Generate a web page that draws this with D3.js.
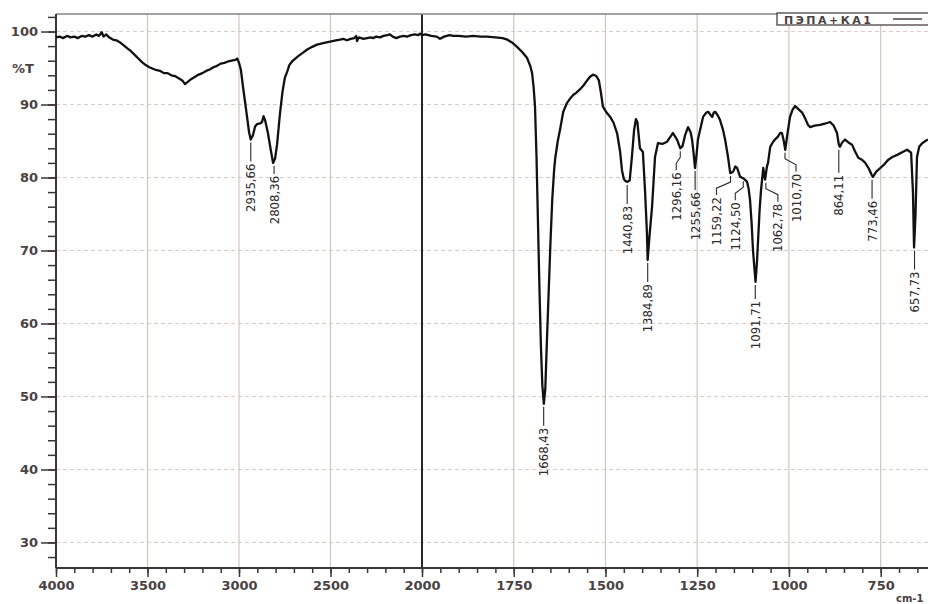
<!DOCTYPE html>
<html>
<head>
<meta charset="utf-8">
<script src="https://cdn.jsdelivr.net/npm/d3@7"></script>
<style>
  html, body { margin: 0; padding: 0; background: #fff; }
  svg { display: block; }
</style>
</head>
<body>
<svg id="chart"></svg>
<script>
// IR spectrum, wavenumber (cm-1) vs %T
const spectrum = [
  [4000,99.2],[3980,99.3],[3960,99.1],[3940,99.4],[3920,99.2],[3900,99.3],[3880,99.1],[3860,99.4],
  [3840,99.3],[3820,99.5],[3800,99.3],[3780,99.6],[3765,99.4],[3750,99.9],[3740,99.3],[3725,99.6],
  [3710,99.2],[3690,98.9],[3670,98.8],[3650,98.5],[3630,98.1],[3610,97.7],[3590,97.3],[3570,96.8],
  [3550,96.3],[3530,95.8],[3510,95.4],[3490,95.1],[3470,94.9],[3450,94.7],[3430,94.6],[3410,94.3],
  [3390,94.3],[3370,94.0],[3350,93.9],[3330,93.6],[3310,93.3],[3295,92.8],[3280,93.1],[3260,93.5],
  [3240,93.8],[3220,94.1],[3200,94.3],[3180,94.6],[3160,94.8],[3140,95.1],[3120,95.3],[3100,95.6],
  [3080,95.7],[3060,95.9],[3040,96.0],[3020,96.1],[3010,96.3],[3000,95.7],[2990,94.8],[2978,92.4],
  [2965,90.0],[2956,88.3],[2945,86.2],[2936,85.2],[2924,85.8],[2912,87.0],[2902,87.3],[2885,87.4],
  [2874,87.6],[2866,88.4],[2858,87.9],[2842,86.1],[2828,84.0],[2814,82.0],[2803,82.6],[2792,84.5],
  [2776,88.8],[2762,91.8],[2749,93.7],[2735,94.6],[2725,95.4],[2710,95.9],[2678,96.6],[2650,97.1],
  [2629,97.5],[2600,97.9],[2574,98.2],[2540,98.4],[2503,98.6],[2470,98.8],[2448,98.9],[2430,99.0],
  [2410,98.8],[2390,99.0],[2370,99.1],[2360,99.4],[2355,98.7],[2345,99.2],[2320,99.0],[2300,99.1],
  [2280,99.2],[2268,99.1],[2250,99.3],[2230,99.2],[2210,99.4],[2190,99.5],[2175,99.6],[2160,99.3],
  [2140,99.1],[2120,99.3],[2100,99.4],[2082,99.3],[2060,99.5],[2040,99.6],[2020,99.5],[2011,99.7],
  [2000,99.5],[1990,99.6],[1975,99.4],[1960,99.3],[1951,99.0],[1940,99.3],[1925,99.5],[1915,99.4],
  [1900,99.4],[1880,99.3],[1860,99.4],[1840,99.3],[1823,99.3],[1800,99.2],[1780,99.1],[1768,98.9],
  [1755,98.5],[1741,97.9],[1727,97.2],[1714,96.4],[1705,95.3],[1700,94.3],[1696,92.5],[1692,89.7],
  [1688,83.0],[1684,74.0],[1680,65.0],[1676,57.0],[1672,51.5],[1668,49.0],[1664,51.0],[1660,57.0],
  [1655,64.0],[1650,71.0],[1645,77.0],[1640,81.0],[1637,82.6],[1630,85.0],[1624,86.5],[1615,89.0],
  [1605,90.2],[1595,90.9],[1588,91.3],[1580,91.6],[1569,92.1],[1560,92.6],[1550,93.3],[1542,93.8],
  [1534,94.1],[1525,93.9],[1518,93.3],[1512,91.5],[1507,89.7],[1497,88.9],[1487,88.3],[1478,87.5],
  [1468,86.0],[1460,83.5],[1455,81.0],[1450,79.8],[1445,79.5],[1440,79.4],[1434,79.6],[1428,82.8],
  [1422,86.5],[1417,88.0],[1413,87.6],[1406,84.0],[1398,83.5],[1392,78.0],[1387,72.4],[1385,68.7],
  [1380,72.0],[1373,76.0],[1365,82.8],[1357,84.7],[1345,84.6],[1332,84.9],[1320,85.8],[1316,86.1],
  [1310,85.6],[1305,85.2],[1296,84.0],[1290,84.3],[1283,85.8],[1275,86.9],[1268,86.2],[1264,85.2],
  [1260,83.4],[1256,81.3],[1252,83.0],[1248,85.2],[1240,87.0],[1234,88.3],[1225,88.9],[1220,89.0],
  [1214,88.6],[1209,88.3],[1205,88.9],[1201,89.0],[1195,88.6],[1188,87.9],[1180,86.6],[1174,85.2],
  [1166,82.8],[1160,80.6],[1152,80.8],[1146,81.5],[1141,81.3],[1133,80.1],[1125,79.9],[1118,79.6],
  [1114,79.4],[1110,78.5],[1106,76.9],[1102,74.0],[1098,70.1],[1094,67.5],[1091,65.7],[1087,68.5],
  [1084,71.5],[1080,75.5],[1076,78.3],[1070,81.3],[1065,79.7],[1060,81.5],[1057,82.0],[1051,84.2],
  [1043,84.9],[1038,85.2],[1030,85.6],[1024,86.1],[1019,86.1],[1014,85.0],[1010,83.8],[1004,86.0],
  [997,88.3],[990,89.3],[983,89.8],[975,89.4],[964,88.9],[955,88.0],[948,87.2],[942,86.9],
  [930,87.1],[915,87.2],[900,87.4],[888,87.6],[878,87.1],[869,86.1],[864,84.5],[861,84.2],
  [855,84.8],[847,85.2],[838,84.8],[828,84.5],[820,83.6],[811,82.7],[800,82.4],[792,82.0],
  [782,81.2],[775,80.4],[771,80.1],[762,80.8],[751,81.3],[740,81.8],[730,82.4],[718,82.8],
  [705,83.1],[690,83.5],[678,83.8],[667,83.4],[662,78.0],[659,70.4],[655,75.0],[651,82.8],
  [645,84.2],[637,84.7],[628,85.0],[621,85.2]
];

// picked peaks: wavenumber, %T at the minimum
const peakWn = [2935.66, 2808.36, 1668.43, 1440.83, 1384.89, 1296.16, 1255.66, 1159.22,
                1124.50, 1091.71, 1062.78, 1010.70, 864.11, 773.46, 657.73];
const peakT  = [85.2, 82.0, 49.0, 79.4, 68.7, 84.0, 81.3, 80.6,
                79.9, 65.7, 79.7, 83.8, 84.2, 80.1, 70.4];

const xMajor = [4000, 3500, 3000, 2500, 2000, 1750, 1500, 1250, 1000, 750];
const xMinorLeft = d3.range(4000, 2000, -100);
const xMinorRight = d3.range(2000, 620, -50);
const yMajor = [30, 40, 50, 60, 70, 80, 90, 100];
const yMinor = d3.range(28, 103, 2);
const yLabel = "%T";
const xLabel = "cm-1";
const legendName = "ПЭПА+КА1";

const W = 928, H = 604;
const mLeft = 56, mTop = 14, mBottom = 568;

const svg = d3.select("#chart").attr("width", W).attr("height", H);

// two-speed wavenumber axis, expanded below 2000
const x = d3.scaleLinear().domain([4000, 2000, 621]).range([mLeft, 422, W]);
const y = d3.scaleLinear().domain([26.5, 102.4]).range([mBottom, mTop]);

const tickFont = "'DejaVu Sans', sans-serif";
const ink = "#4a4242";

// horizontal dashed grid
svg.append("g")
  .selectAll("line")
  .data(yMajor)
  .join("line")
  .attr("x1", mLeft).attr("x2", W)
  .attr("y1", d => y(d)).attr("y2", d => y(d))
  .attr("stroke", "#dcc9c9")
  .attr("stroke-dasharray", "4,3");

// vertical grid
svg.append("g")
  .selectAll("line")
  .data(xMajor.filter(d => d !== 4000))
  .join("line")
  .attr("x1", d => x(d)).attr("x2", d => x(d))
  .attr("y1", mTop).attr("y2", mBottom)
  .attr("stroke", d => d === 2000 ? "#2b2626" : "#cfc5c1")
  .attr("stroke-width", d => d === 2000 ? 2 : 1.2);

// top frame
svg.append("line")
  .attr("x1", mLeft).attr("x2", W)
  .attr("y1", mTop).attr("y2", mTop)
  .attr("stroke", "#8a8282").attr("stroke-width", 1.5);

// y axis
const yMinorAxis = svg.append("g")
  .attr("transform", `translate(${mLeft},0)`)
  .call(d3.axisLeft(y).tickValues(yMinor).tickSize(8).tickFormat(""));
const yAxis = svg.append("g")
  .attr("transform", `translate(${mLeft},0)`)
  .call(d3.axisLeft(y).tickValues(yMajor).tickSize(15).tickPadding(3));
[yMinorAxis, yAxis].forEach(g => {
  g.select(".domain").attr("stroke", "#3d3535").attr("stroke-width", 2)
    .attr("d", `M0,${mTop}V${mBottom}`);
  g.selectAll(".tick line").attr("stroke", "#3d3535").attr("stroke-width", 1.5);
});
yAxis.selectAll(".tick text")
  .style("font-family", tickFont).style("font-size", "13px")
  .style("font-weight", "bold").attr("fill", ink);

svg.append("text")
  .attr("x", 12).attr("y", 73)
  .style("font-family", tickFont).style("font-size", "13px")
  .style("font-weight", "bold").attr("fill", ink)
  .text(yLabel);

// x axis
const xMinorAxis = svg.append("g")
  .attr("transform", `translate(0,${mBottom})`)
  .call(d3.axisBottom(x).tickValues(xMinorLeft.concat(xMinorRight)).tickSize(5).tickFormat(""));
const xAxis = svg.append("g")
  .attr("transform", `translate(0,${mBottom})`)
  .call(d3.axisBottom(x).tickValues(xMajor).tickSize(9).tickPadding(4).tickFormat(d3.format("d")));
[xMinorAxis, xAxis].forEach(g => {
  g.select(".domain").attr("stroke", "#3d3535").attr("stroke-width", 2)
    .attr("d", `M${mLeft},0H${W}`);
  g.selectAll(".tick line").attr("stroke", "#3d3535").attr("stroke-width", 1.5);
});
xAxis.selectAll(".tick text")
  .style("font-family", tickFont).style("font-size", "13px")
  .style("font-weight", "bold").attr("fill", ink);

svg.append("text")
  .attr("x", 896).attr("y", 602)
  .style("font-family", tickFont).style("font-size", "10px")
  .style("font-weight", "bold").attr("fill", ink)
  .text(xLabel);

// spectrum
svg.append("path")
  .datum(spectrum)
  .attr("fill", "none")
  .attr("stroke", "#111")
  .attr("stroke-width", 2.3)
  .attr("stroke-linejoin", "round")
  .attr("d", d3.line().x(d => x(d[0])).y(d => y(d[1])));

// peak labels with leader lines
const fmt = d => d3.format(".2f")(d).replace(".", ",");
const shift = { 1296.16: -4, 1159.22: -14, 1124.50: -8, 1062.78: 12, 1010.70: 11 };
const gap = { 2808.36: 12, 1091.71: 18, 864.11: 27 };
const peaks = peakWn.map((w, i) => ({ w, t: peakT[i] }));

const pg = svg.append("g");
peaks.forEach(p => {
  const px = x(p.w), py = y(p.t);
  const dx = shift[p.w] || 0;
  const ty = py + (gap[p.w] || 23);
  const path = d3.path();
  path.moveTo(px, py + 3);
  if (dx) {
    path.lineTo(px, py + 9);
    path.lineTo(px + dx, py + 15);
  }
  path.lineTo(px + dx, ty - 1);
  pg.append("path")
    .attr("d", path.toString())
    .attr("fill", "none")
    .attr("stroke", "#2a2a2a")
    .attr("stroke-width", 1.1);
  pg.append("text")
    .attr("transform", `translate(${px + dx},${ty + 1}) rotate(-90)`)
    .attr("text-anchor", "end")
    .attr("dy", "0.35em")
    .style("font-family", "'Liberation Sans Narrow', 'DejaVu Sans Condensed', sans-serif")
    .style("font-size", "13px")
    .attr("fill", "#2e2a2a")
    .text(fmt(p.w));
});

// legend
const lg = svg.append("g");
lg.append("rect")
  .attr("x", 777).attr("y", 13)
  .attr("width", 160).attr("height", 12)
  .attr("fill", "#fff")
  .attr("stroke", "#4a4242").attr("stroke-width", 1.3);
lg.append("text")
  .attr("x", 784).attr("y", 23.5)
  .style("font-family", tickFont).style("font-size", "11px")
  .style("font-weight", "bold").style("letter-spacing", "2.5px")
  .attr("fill", ink)
  .text(legendName);
lg.append("line")
  .attr("x1", 893).attr("x2", 922)
  .attr("y1", 19).attr("y2", 19)
  .attr("stroke", "#4a4242").attr("stroke-width", 1.5);
</script>
</body>
</html>
